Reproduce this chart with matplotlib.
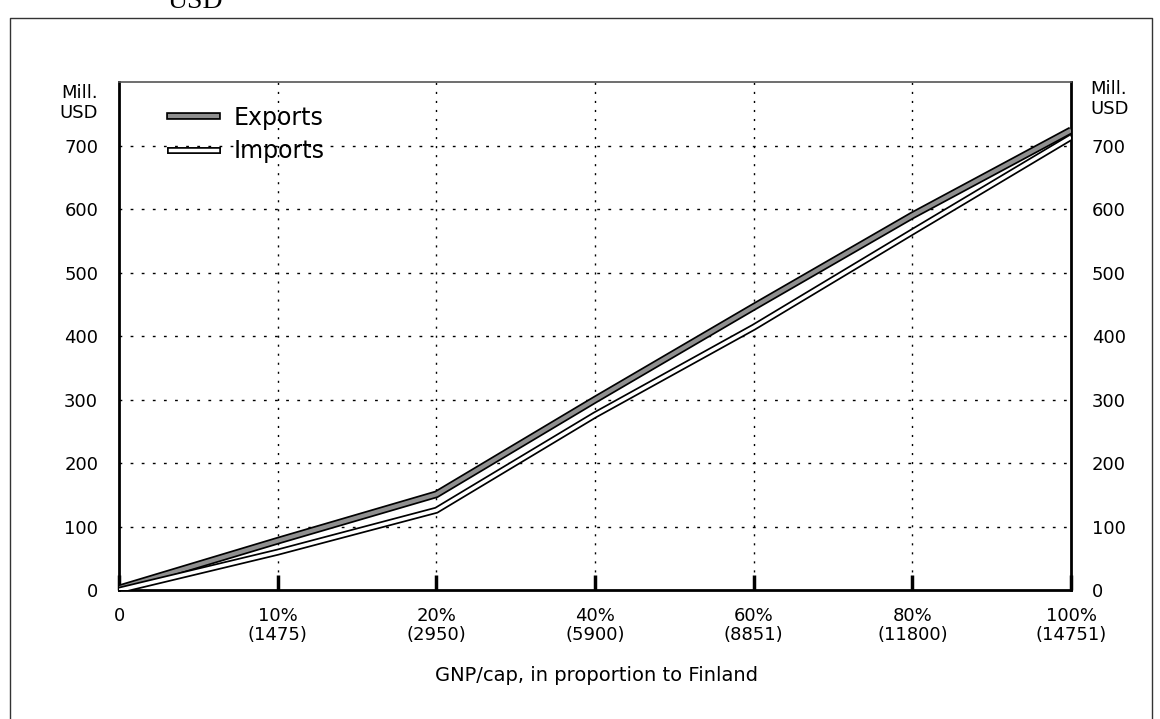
import matplotlib.pyplot as plt
import matplotlib.patheffects as pe
from matplotlib.lines import Line2D

plt.rcParams['font.family'] = ['DejaVu Sans']

# GNP/cap categories (share of Finland's level)
gnp_labels = ['0', '10%\n(1475)', '20%\n(2950)', '40%\n(5900)',
              '60%\n(8851)', '80%\n(11800)', '100%\n(14751)']
exports = [3, 78, 151, 300, 446, 590, 724]
imports = [0, 60, 126, 276, 414, 564, 713]
y_ticks = [0, 100, 200, 300, 400, 500, 600, 700]

fig = plt.figure(figsize=(11.6, 7.19), dpi=100)
ax = fig.add_axes([0.1026, 0.179, 0.8207, 0.707])

x = list(range(len(gnp_labels)))

# double-line look: black edges, grey (exports) or white (imports) core
exp_fx = [pe.Stroke(linewidth=5.5, foreground='black'),
          pe.Stroke(linewidth=3, foreground='#8f8f8f')]
imp_fx = [pe.Stroke(linewidth=5, foreground='black'),
          pe.Stroke(linewidth=2.5, foreground='white')]

ax.plot(x, exports, color='black', lw=5, path_effects=exp_fx,
        solid_joinstyle='miter', solid_capstyle='butt', zorder=4)
ax.plot(x, imports, color='black', lw=5, path_effects=imp_fx,
        solid_joinstyle='miter', solid_capstyle='butt', zorder=4)

ax.set_xlim(0, 6)
ax.set_ylim(0, 800)

ax.set_xticks(x)
ax.set_xticklabels(gnp_labels, fontsize=13, linespacing=1.1)
ax.set_yticks(y_ticks)
ax.set_yticklabels([str(v) for v in y_ticks], fontsize=13)
ax.tick_params(axis='x', direction='in', length=11, width=2.5, pad=12)
ax.tick_params(axis='y', length=0, pad=15, labelright=True)

# vertical grid at inner categories, horizontal grid at 100..700
for xi in x[1:-1]:
    ax.axvline(xi, color='black', lw=1, ls=(0, (1.5, 5)), zorder=1)
for yv in y_ticks[1:]:
    ax.axhline(yv, color='black', lw=1, ls=(0, (2, 6)), zorder=1)

for s in ['left', 'right', 'bottom']:
    ax.spines[s].set_linewidth(2)
ax.spines['top'].set_linewidth(1.2)
ax.spines['top'].set_color('#555555')

ax.text(-0.022, 0.958, 'Mill.\nUSD', transform=ax.transAxes, ha='right',
        va='center', fontsize=13, linespacing=1.15)
ax.text(1.02, 0.966, 'Mill.\nUSD', transform=ax.transAxes, ha='left',
        va='center', fontsize=13, linespacing=1.15)

handles = [Line2D([], [], color='black', lw=5, path_effects=exp_fx),
           Line2D([], [], color='black', lw=5, path_effects=imp_fx)]
ax.legend(handles, ['Exports', 'Imports'], loc='upper left',
          bbox_to_anchor=(0.036, 0.986), frameon=False, fontsize=17,
          handlelength=2.0, handletextpad=0.72, labelspacing=0.4,
          borderpad=0.2)

fig.text(0.514, 0.06, 'GNP/cap, in proportion to Finland', ha='center',
         va='center', fontsize=14)

# outer frame of the scanned page and cut-off heading
fig.add_artist(Line2D([0.009, 0.009, 0.993, 0.993], [0.0, 0.975, 0.975, 0.0],
                      transform=fig.transFigure, color='#333333', lw=1))
fig.text(0.168, 0.989, 'USD', ha='center', va='baseline', fontsize=20,
         family=['Liberation Serif', 'DejaVu Serif'])

fig.savefig('out.png', dpi=100)
